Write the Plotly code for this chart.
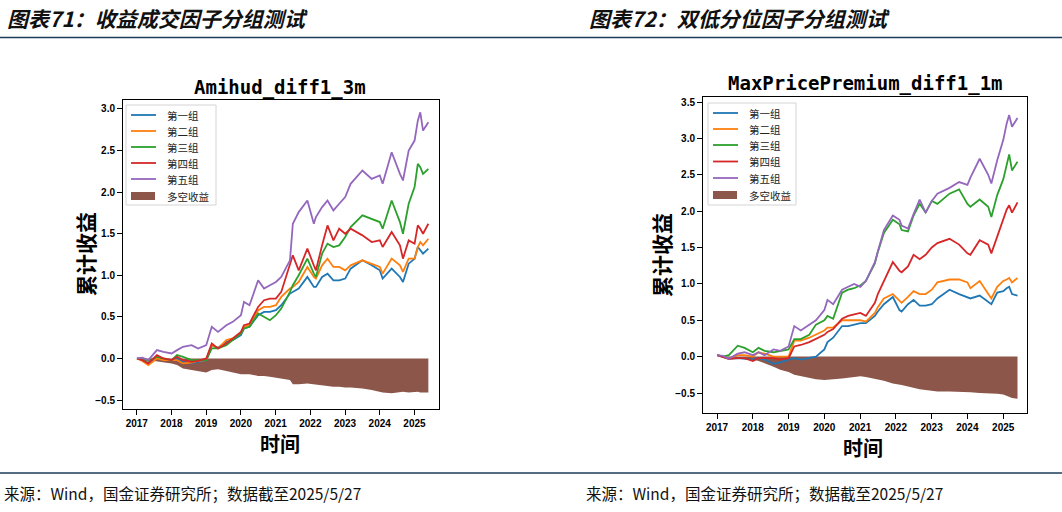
import plotly.graph_objects as go

# ---------------- data ----------------
dates = ["2017-01-03","2017-03-01","2017-05-02","2017-08-01","2017-10-09",
         "2018-01-02","2018-03-01","2018-05-02","2018-08-01","2018-10-08",
         "2019-01-02","2019-03-01","2019-05-06","2019-08-01","2019-10-08",
         "2020-01-02","2020-02-03","2020-04-01","2020-07-01","2020-09-01","2020-11-02",
         "2021-01-04","2021-03-01","2021-06-01","2021-07-01","2021-09-01","2021-12-01",
         "2022-02-07","2022-03-01","2022-05-05","2022-07-01","2022-09-01","2022-11-01",
         "2023-01-03","2023-03-01","2023-07-03","2023-10-09",
         "2024-01-02","2024-02-01","2024-05-06","2024-08-01","2024-09-02","2024-11-01",
         "2025-01-02","2025-02-05","2025-03-03","2025-04-01","2025-05-27"]

group_names = ["第一组", "第二组", "第三组", "第四组", "第五组"]
ls_name = "多空收益"

# Chart 1: Amihud_diff1_3m
a_g1 = [0.00,-0.02,-0.06,0.02,-0.01,-0.02,0.00,-0.04,-0.06,-0.04,-0.02,0.15,0.13,0.20,0.22,
        0.28,0.36,0.38,0.52,0.56,0.56,0.58,0.64,0.78,0.80,0.84,0.98,0.86,0.86,0.98,1.02,0.94,0.94,
        0.96,1.08,1.18,1.12,1.06,0.96,1.08,0.98,0.92,1.14,1.20,1.34,1.30,1.26,1.32]
a_g2 = [0.00,-0.03,-0.08,0.00,-0.02,-0.02,-0.02,-0.06,-0.05,-0.03,-0.02,0.16,0.12,0.22,0.24,
        0.30,0.38,0.40,0.58,0.62,0.62,0.64,0.74,0.84,0.86,0.92,1.10,0.98,0.96,1.12,1.20,1.10,1.10,
        1.06,1.12,1.18,1.14,1.10,1.02,1.20,1.12,1.04,1.20,1.20,1.34,1.40,1.36,1.44]
a_g3 = [0.00,-0.01,-0.03,0.02,0.00,-0.02,0.04,0.02,-0.02,-0.02,-0.02,0.12,0.12,0.16,0.22,
        0.30,0.36,0.38,0.54,0.50,0.46,0.52,0.60,0.80,0.88,1.00,1.20,1.02,0.98,1.26,1.38,1.34,1.36,
        1.46,1.58,1.72,1.68,1.64,1.56,1.90,1.64,1.50,1.86,2.06,2.34,2.30,2.22,2.28]
a_g4 = [0.00,-0.02,-0.06,0.04,0.00,-0.02,0.02,-0.02,-0.04,-0.03,0.00,0.18,0.12,0.18,0.24,
        0.32,0.40,0.42,0.62,0.70,0.72,0.72,0.80,1.12,1.24,1.06,1.32,1.12,1.06,1.36,1.60,1.42,1.56,
        1.50,1.56,1.48,1.40,1.42,1.34,1.52,1.36,1.20,1.42,1.38,1.60,1.56,1.50,1.62]
a_g5 = [0.00,0.01,-0.02,0.10,0.08,0.06,0.10,0.14,0.16,0.12,0.16,0.38,0.32,0.40,0.44,
        0.52,0.68,0.64,0.94,0.84,0.88,0.92,0.98,1.18,1.62,1.76,1.90,1.62,1.70,1.82,1.90,1.78,1.86,
        1.94,2.10,2.26,2.16,2.20,2.10,2.48,2.22,2.14,2.50,2.62,2.86,2.96,2.74,2.84]
a_ls = [0.00,-0.01,-0.02,-0.03,-0.04,-0.06,-0.08,-0.12,-0.14,-0.15,-0.17,-0.14,-0.13,-0.15,-0.17,
        -0.19,-0.19,-0.19,-0.21,-0.21,-0.22,-0.23,-0.24,-0.26,-0.31,-0.31,-0.30,-0.31,-0.32,-0.33,-0.33,-0.34,-0.34,
        -0.35,-0.35,-0.36,-0.38,-0.40,-0.41,-0.42,-0.41,-0.40,-0.41,-0.40,-0.40,-0.41,-0.41,-0.41]

# Chart 2: MaxPricePremium_diff1_1m
m_g1 = [0.02,0.00,-0.03,-0.02,-0.03,-0.04,-0.02,-0.04,-0.10,-0.08,-0.04,-0.02,-0.04,-0.02,0.00,
        0.10,0.20,0.26,0.42,0.42,0.44,0.46,0.46,0.56,0.62,0.72,0.82,0.64,0.62,0.72,0.78,0.70,0.70,
        0.72,0.80,0.92,0.86,0.82,0.80,0.84,0.76,0.72,0.88,0.90,0.94,0.96,0.86,0.84]
m_g2 = [0.02,0.00,-0.03,0.02,0.02,0.00,0.06,0.04,0.00,0.00,0.00,0.22,0.22,0.26,0.30,
        0.36,0.40,0.40,0.50,0.50,0.50,0.50,0.48,0.60,0.68,0.80,0.86,0.76,0.74,0.82,0.90,0.86,0.86,
        0.92,1.02,1.06,1.06,1.02,0.94,1.04,0.86,0.80,0.96,1.04,1.06,1.08,1.02,1.08]
m_g3 = [0.02,0.00,0.02,0.15,0.12,0.06,0.12,0.08,0.06,0.08,0.10,0.24,0.24,0.30,0.44,
        0.50,0.56,0.52,0.88,0.92,0.94,0.98,1.04,1.28,1.44,1.70,1.88,1.82,1.74,1.72,1.94,2.10,1.98,
        2.14,2.10,2.24,2.30,2.10,2.06,2.16,2.06,1.92,2.22,2.44,2.62,2.78,2.56,2.68]
m_g4 = [0.02,0.00,-0.03,-0.02,-0.02,-0.06,-0.02,-0.02,-0.02,-0.04,-0.02,0.14,0.16,0.20,0.24,
        0.30,0.34,0.38,0.52,0.56,0.58,0.60,0.56,0.74,0.86,1.04,1.30,1.18,1.16,1.24,1.40,1.34,1.40,
        1.50,1.56,1.62,1.54,1.42,1.40,1.60,1.54,1.42,1.64,1.88,2.02,2.08,1.98,2.12]
m_g5 = [0.02,0.01,-0.03,0.04,0.06,0.02,0.06,0.02,0.10,0.08,0.14,0.42,0.36,0.44,0.50,
        0.64,0.78,0.72,0.92,0.96,1.00,0.96,1.04,1.30,1.44,1.74,1.94,1.88,1.80,1.76,1.96,2.16,1.98,
        2.14,2.24,2.32,2.40,2.36,2.46,2.72,2.50,2.38,2.70,2.98,3.20,3.32,3.16,3.28]
m_ls = [0.00,-0.01,-0.02,-0.02,-0.03,-0.04,-0.06,-0.09,-0.14,-0.18,-0.21,-0.25,-0.27,-0.29,-0.31,
        -0.32,-0.32,-0.31,-0.30,-0.29,-0.28,-0.27,-0.28,-0.30,-0.31,-0.33,-0.37,-0.38,-0.39,-0.41,-0.43,-0.45,-0.46,
        -0.47,-0.48,-0.48,-0.48,-0.49,-0.49,-0.50,-0.50,-0.51,-0.51,-0.52,-0.54,-0.56,-0.57,-0.58]

year_ticks = ["2017","2018","2019","2020","2021","2022","2023","2024","2025"]
titles = ["Amihud_diff1_3m", "MaxPricePremium_diff1_1m"]
headers = ["图表71：收益成交因子分组测试", "图表72：双低分位因子分组测试"]
source_text = "来源：Wind，国金证券研究所；数据截至2025/5/27"
y_label = "累计收益"
x_label = "时间"

colors = ["#1f77b4", "#ff7f0e", "#2ca02c", "#d62728", "#9467bd"]
ls_color = "#8c564b"

W, H = 1062, 512
def px(x): return x / W
def py(y): return 1 - y / H

fig = go.Figure()

charts = [
    dict(groups=[a_g1, a_g2, a_g3, a_g4, a_g5], ls=a_ls, xa="x", ya="y"),
    dict(groups=[m_g1, m_g2, m_g3, m_g4, m_g5], ls=m_ls, xa="x2", ya="y2"),
]
for c in charts:
    fig.add_trace(go.Scatter(x=dates, y=c["ls"], name=ls_name, mode="lines",
                             line=dict(width=0, color=ls_color), fill="tozeroy",
                             fillcolor=ls_color, xaxis=c["xa"], yaxis=c["ya"]))
    for i, g in enumerate(c["groups"]):
        fig.add_trace(go.Scatter(x=dates, y=g, name=group_names[i], mode="lines",
                                 line=dict(width=1.8, color=colors[i]),
                                 xaxis=c["xa"], yaxis=c["ya"]))

tickfont = dict(family="Liberation Sans", size=10, color="black", weight="bold")
axis_common = dict(showline=True, linecolor="black", linewidth=1, mirror=True,
                   ticks="outside", ticklen=5, tickcolor="black", showgrid=False,
                   zeroline=False, tickfont=tickfont)
tickvals = [y + "-01-01" for y in year_ticks]

fig.update_layout(
    width=W, height=H, margin=dict(l=0, r=0, t=0, b=0),
    paper_bgcolor="white", plot_bgcolor="white", showlegend=False,
    xaxis=dict(domain=[px(123), px(439)], anchor="y", type="date",
               range=["2016-08-09", "2025-09-16"], tickvals=tickvals, ticktext=year_ticks,
               **axis_common),
    yaxis=dict(domain=[py(409), py(100)], anchor="x", range=[-0.608, 3.108],
               tickvals=[-0.5, 0, 0.5, 1, 1.5, 2, 2.5, 3], tickformat=".1f", **axis_common),
    xaxis2=dict(domain=[px(703), px(1027)], anchor="y2", type="date",
                range=["2016-08-11", "2025-09-01"], tickvals=tickvals, ticktext=year_ticks,
                **axis_common),
    yaxis2=dict(domain=[py(413), py(97)], anchor="x2", range=[-0.775, 3.569],
                tickvals=[-0.5, 0, 0.5, 1, 1.5, 2, 2.5, 3, 3.5], tickformat=".1f", **axis_common),
)

ann = []
shapes = []
# headers
for hx, txt in zip([5, 587], headers):
    ann.append(dict(x=px(hx), y=py(18), xref="paper", yref="paper", xanchor="left",
                    yanchor="middle", showarrow=False,
                    text="<b><i>" + txt + "</i></b>",
                    font=dict(family="Noto Sans CJK SC", size=21, color="#111")))
# source lines
for sx in [2, 584]:
    ann.append(dict(x=px(sx), y=py(493), xref="paper", yref="paper", xanchor="left",
                    yanchor="middle", showarrow=False, text=source_text,
                    font=dict(family="Noto Sans CJK SC", size=15.5, color="#111")))
# chart titles
for cx, cy, t in [(280, 87, titles[0]), (865, 83, titles[1])]:
    ann.append(dict(x=px(cx), y=py(cy), xref="paper", yref="paper", xanchor="center",
                    yanchor="middle", showarrow=False, text="<b>" + t + "</b>",
                    font=dict(family="DejaVu Sans Mono", size=19, color="black")))
# axis labels
for lx, ly in [(85, 254), (661, 255)]:
    ann.append(dict(x=px(lx), y=py(ly), xref="paper", yref="paper", xanchor="center",
                    yanchor="middle", showarrow=False, textangle=-90,
                    text="<b>" + y_label + "</b>",
                    font=dict(family="Noto Sans CJK SC", size=21, color="black")))
for lx, ly in [(280, 443), (863, 447)]:
    ann.append(dict(x=px(lx), y=py(ly), xref="paper", yref="paper", xanchor="center",
                    yanchor="middle", showarrow=False, text="<b>" + x_label + "</b>",
                    font=dict(family="Noto Sans CJK SC", size=20, color="black")))

# legends (drawn as legend boxes)
legend_specs = [
    dict(box=(126, 105, 216, 205), sym_x=(131, 156), text_x=165,
         ys=[115, 131, 147, 163, 179, 196]),
    dict(box=(708, 103, 796, 205), sym_x=(713, 738), text_x=747,
         ys=[113, 129, 145, 161.5, 178, 195]),
]
for spec in legend_specs:
    x0, y0, x1, y1 = spec["box"]
    shapes.append(dict(type="rect", xref="paper", yref="paper", x0=px(x0), x1=px(x1),
                       y0=py(y1), y1=py(y0), line=dict(color="#d4d4d4", width=1),
                       fillcolor="rgba(255,255,255,0.85)", layer="above"))
    sx0, sx1 = spec["sym_x"]
    names = group_names + [ls_name]
    for k, (nm, yy) in enumerate(zip(names, spec["ys"])):
        if k < 5:
            shapes.append(dict(type="line", xref="paper", yref="paper", x0=px(sx0), x1=px(sx1),
                               y0=py(yy), y1=py(yy), line=dict(color=colors[k], width=1.8),
                               layer="above"))
        else:
            shapes.append(dict(type="rect", xref="paper", yref="paper", x0=px(sx0), x1=px(sx1 - 1),
                               y0=py(yy + 4), y1=py(yy - 4), line=dict(width=0),
                               fillcolor=ls_color, layer="above"))
        ann.append(dict(x=px(spec["text_x"]), y=py(yy), xref="paper", yref="paper",
                        xanchor="left", yanchor="middle", showarrow=False, text=nm,
                        font=dict(family="Noto Sans CJK SC", size=10.5, color="#222")))

shapes.append(dict(type="line", xref="paper", yref="paper", x0=0, x1=1, y0=py(37.5), y1=py(37.5),
                   line=dict(color="#1c3d5a", width=1.5)))
shapes.append(dict(type="line", xref="paper", yref="paper", x0=0, x1=1, y0=py(473), y1=py(473),
                   line=dict(color="#1c3d5a", width=1.5)))

fig.update_layout(annotations=ann, shapes=shapes)

fig.write_html("out.html", config={"displayModeBar": False, "staticPlot": True},
               post_script="document.body.style.margin='0';document.body.style.overflow='hidden';")
